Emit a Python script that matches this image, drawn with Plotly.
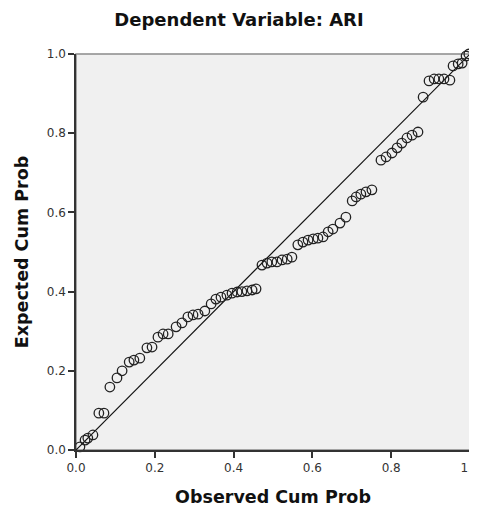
import plotly.graph_objects as go

# Observed cumulative probability (x) and expected cumulative probability (y)
observed_cum_prob = [
    0.010, 0.023, 0.030, 0.043, 0.058, 0.071, 0.086, 0.104, 0.117, 0.135,
    0.147, 0.162, 0.180, 0.193, 0.208, 0.221, 0.234, 0.254, 0.269, 0.284,
    0.297, 0.310, 0.327, 0.343, 0.355, 0.368, 0.383, 0.396, 0.409, 0.421,
    0.434, 0.447, 0.457, 0.472, 0.485, 0.497, 0.510, 0.523, 0.536, 0.548,
    0.563, 0.576, 0.589, 0.602, 0.614, 0.627, 0.640, 0.652, 0.670, 0.685,
    0.701, 0.711, 0.723, 0.736, 0.751, 0.774, 0.787, 0.802, 0.815, 0.827,
    0.840, 0.853, 0.868, 0.881, 0.896, 0.909, 0.921, 0.934, 0.949, 0.957,
    0.970, 0.980, 0.990, 0.997,
]
expected_cum_prob = [
    0.008, 0.025, 0.030, 0.038, 0.093, 0.093, 0.159, 0.182, 0.200, 0.222,
    0.227, 0.232, 0.258, 0.260, 0.285, 0.293, 0.293, 0.311, 0.321, 0.336,
    0.341, 0.343, 0.351, 0.369, 0.381, 0.386, 0.391, 0.396, 0.399, 0.400,
    0.402, 0.404, 0.407, 0.467, 0.472, 0.475, 0.475, 0.480, 0.482, 0.487,
    0.518, 0.525, 0.530, 0.533, 0.535, 0.538, 0.551, 0.558, 0.573, 0.588,
    0.629, 0.639, 0.646, 0.652, 0.657, 0.732, 0.740, 0.750, 0.763, 0.775,
    0.788, 0.795, 0.803, 0.891, 0.932, 0.937, 0.937, 0.937, 0.934, 0.970,
    0.975, 0.977, 0.995, 1.000,
]
ref_line_x = [0.0, 1.0]
ref_line_y = [0.0, 1.0]
tick_vals = [0.0, 0.2, 0.4, 0.6, 0.8, 1.0]
tick_text = ["0.0", "0.2", "0.4", "0.6", "0.8", "1.0"]

FONT = "DejaVu Sans, Liberation Sans, Arial, sans-serif"

fig = go.Figure()
fig.add_trace(go.Scatter(
    x=ref_line_x, y=ref_line_y, mode="lines",
    line=dict(color="#111111", width=1.2),
    hoverinfo="skip", showlegend=False,
))
fig.add_trace(go.Scatter(
    x=observed_cum_prob, y=expected_cum_prob, mode="markers",
    marker=dict(symbol="circle-open", size=9.5, color="#222222",
                line=dict(width=1.3, color="#222222")),
    cliponaxis=False, showlegend=False,
))

fig.add_shape(type="rect", xref="paper", yref="paper", x0=0, x1=1, y0=0, y1=1,
              line=dict(color="#8a8a8a", width=1.5), layer="below")

axis_common = dict(
    range=[0, 1], tickvals=tick_vals, ticktext=tick_text,
    showgrid=False, zeroline=False, showline=True, linecolor="#333333",
    linewidth=1.5, ticks="outside", ticklen=6, tickwidth=1.5, tickcolor="#333333",
    tickfont=dict(family=FONT, size=12, color="#333333"),
    ticklabeloverflow="allow", automargin=False,
)
fig.update_xaxes(**axis_common,
                 title=dict(text="<b>Observed Cum Prob</b>", standoff=17,
                            font=dict(family=FONT, size=17.5, color="#111111")))
fig.update_yaxes(**axis_common,
                 title=dict(text="<b>Expected Cum Prob</b>", standoff=14,
                            font=dict(family=FONT, size=17.5, color="#111111")))

# The page body has an 8px margin, so the figure is sized and offset to fit.
fig.update_layout(
    width=469, height=507,
    margin=dict(l=68, r=7, t=46, b=65, autoexpand=False),
    paper_bgcolor="white", plot_bgcolor="#f0f0f0",
    title=dict(text="<b>Dependent Variable: ARI</b>", x=(239 - 8) / 469,
               xanchor="center", xref="container",
               y=1 - 12 / 507, yanchor="middle", automargin=False,
               font=dict(family=FONT, size=18, color="#111111")),
)

fig.write_html("out.html")
